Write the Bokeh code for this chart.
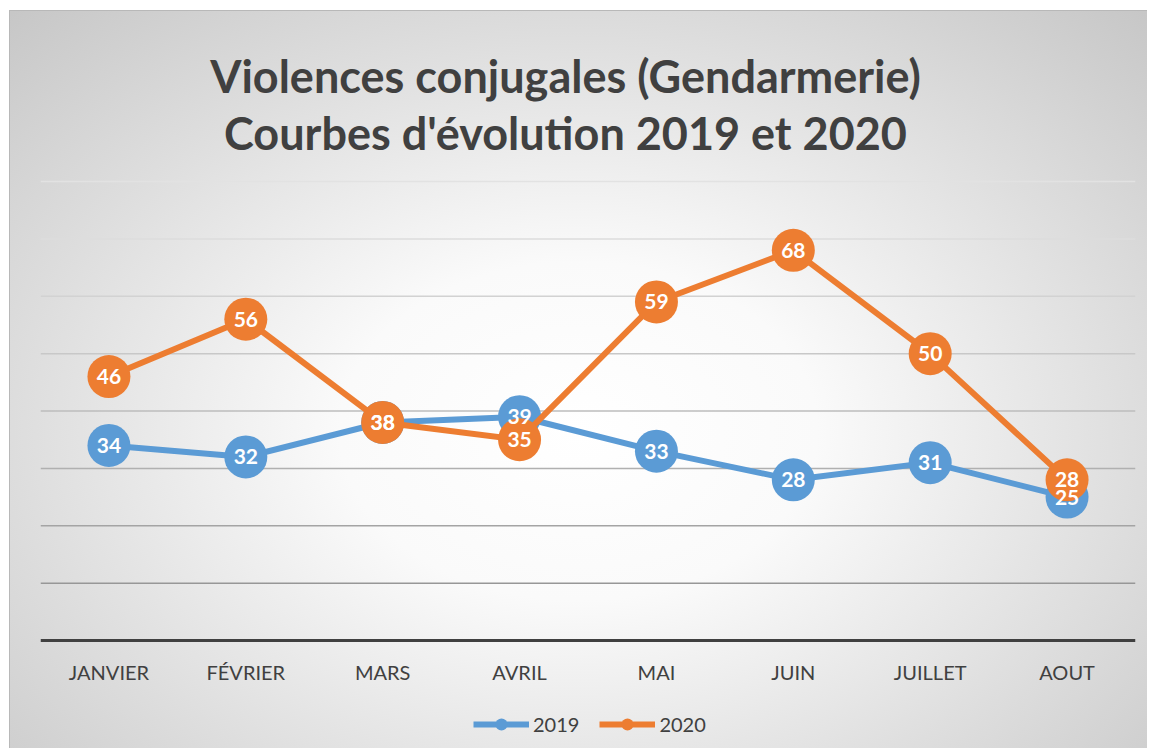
from bokeh.plotting import figure
from bokeh.models import (FactorRange, Range1d, Label, Legend, LegendItem,
                          ColumnDataSource, Span, InlineStyleSheet)
from bokeh.core.properties import value
from bokeh.embed import file_html
from bokeh.resources import INLINE

# ---- data ----
months = ["JANVIER", "FÉVRIER", "MARS", "AVRIL", "MAI", "JUIN", "JUILLET", "AOUT"]
v2019 = [34, 32, 38, 39, 33, 28, 31, 25]
v2020 = [46, 56, 38, 35, 59, 68, 50, 28]
y_ticks = [10, 20, 30, 40, 50, 60, 70, 80]
title_lines = ["Violences conjugales (Gendarmerie)", "Courbes d'évolution 2019 et 2020"]
grid_colors = ["#979797", "#a4a4a4", "#b0b0b0", "#bcbcbc", "#c8c8c8", "#d2d2d2", "#dcdcdc", "#e2e2e2"]

BLUE = "#5b9bd5"
ORANGE = "#ed7d31"
TXT = "#404040"
FONT = "Lato"

# layout: the value range 0..80 spans 459 px (from y=181 to y=640);
# the frame covers the whole figure height so titles/legend can live inside it
W, H = 1147, 748
TOP_PX, BOTTOM_PX = 181, 640
PX_PER_UNIT = (BOTTOM_PX - TOP_PX) / 80
Y_HI = 80 + TOP_PX / PX_PER_UNIT
Y_LO = 0 - (H - BOTTOM_PX) / PX_PER_UNIT
LEFT_PX = 40

src = ColumnDataSource(dict(
    m=months, v2019=v2019, v2020=v2020,
    t2019=[str(v) for v in v2019], t2020=[str(v) for v in v2020],
))

p = figure(width=W, height=H,
           x_range=FactorRange(*months, range_padding=0),
           y_range=Range1d(Y_LO, Y_HI),
           output_backend="svg", toolbar_location=None,
           min_border_left=LEFT_PX, min_border_right=12,
           min_border_top=0, min_border_bottom=0,
           background_fill_color=None, border_fill_color=None,
           outline_line_color=None)
p.title.visible = False

css = """
:host {
  background-color: #ffffff;
  background-image:
    linear-gradient(#b8b8b8, #b8b8b8),
    linear-gradient(#b8b8b8, #b8b8b8),
    radial-gradient(ellipse 75% 82% at 50% 57%, #ffffff 0%, #fafafa 28%, #dedede 65%, #c4c4c4 100%);
  background-repeat: no-repeat;
  background-position: 9px 10px, 9px 10px, 10px 11px;
  background-size: 1px 100%, 100% 1px, calc(100% - 10px) calc(100% - 11px);
}
"""
p.stylesheets = [InlineStyleSheet(css=css)]

# titles
for txt, cy in zip(title_lines, (75, 132)):
    p.add_layout(Label(x=565 - LEFT_PX, y=H - cy, x_units="screen", y_units="screen",
                       text=txt, text_align="center", text_baseline="middle",
                       text_font=FONT, text_font_size="45px", text_font_style="bold",
                       text_color=TXT))

# gridlines
p.xgrid.grid_line_color = None
p.ygrid.grid_line_color = None
for yv, c in zip(y_ticks, grid_colors):
    p.add_layout(Span(location=yv, dimension="width", line_color=c,
                      line_width=1.5, level="underlay"))

# axes
p.yaxis.visible = False
p.xaxis.fixed_location = 0
p.xaxis.axis_line_color = TXT
p.xaxis.axis_line_width = 3
p.xaxis.major_tick_line_color = None
p.xaxis.minor_tick_line_color = None
p.xaxis.major_label_text_font = FONT
p.xaxis.major_label_text_font_size = "20px"
p.xaxis.major_label_text_color = TXT
p.xaxis.major_label_standoff = 13

# series
l1 = p.line("m", "v2019", source=src, line_color=BLUE, line_width=6)
s1 = p.scatter("m", "v2019", source=src, size=43, fill_color=BLUE, line_color=None)
l2 = p.line("m", "v2020", source=src, line_color=ORANGE, line_width=6)
s2 = p.scatter("m", "v2020", source=src, size=43, fill_color=ORANGE, line_color=None)

for col, tcol in (("v2019", "t2019"), ("v2020", "t2020")):
    p.text("m", col, text=tcol, source=src, text_align="center",
           text_baseline="middle", text_color="white",
           text_font=value(FONT), text_font_style="bold", text_font_size="21px")

legend = Legend(items=[LegendItem(label="2019", renderers=[l1, s1]),
                       LegendItem(label="2020", renderers=[l2, s2])],
                orientation="horizontal", location=(433, 9),
                background_fill_alpha=0, border_line_color=None,
                label_text_font=FONT, label_text_font_size="20px",
                label_text_color=TXT, glyph_width=56, glyph_height=30,
                spacing=20, label_standoff=4, padding=0, margin=0)
p.add_layout(legend, "center")

open("out.html", "w").write(file_html(p, INLINE))
